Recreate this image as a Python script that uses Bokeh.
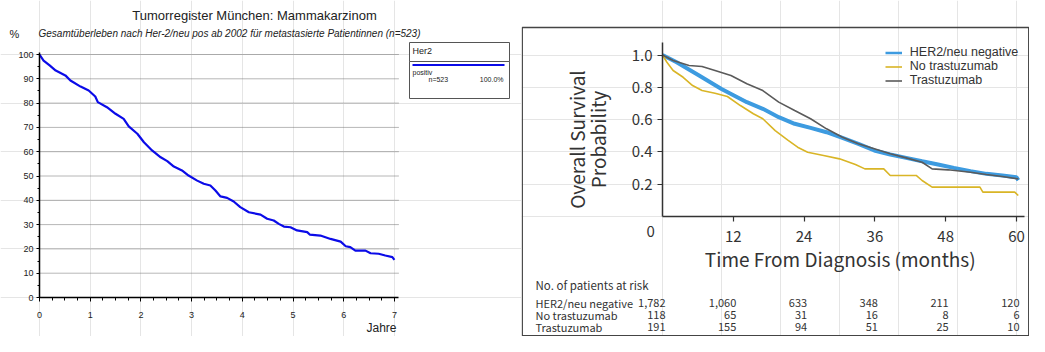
from math import pi
from bokeh.plotting import figure
from bokeh.models import (Range1d, LinearAxis, FixedTicker, Label, Legend,
                          LegendItem, PrintfTickFormatter)
from bokeh.layouts import row
from bokeh.embed import file_html
from bokeh.resources import INLINE
from bokeh.core.properties import value

# ---------------- data: left panel (Tumorregister München) ----------------
km_years = [0.00, 0.08, 0.20, 0.32, 0.51, 0.61, 0.81, 0.97, 1.10, 1.15, 1.33, 1.50,
            1.66, 1.76, 1.93, 2.06, 2.22, 2.39, 2.52, 2.65, 2.81, 2.94, 3.11, 3.24,
            3.37, 3.47, 3.57, 3.70, 3.83, 3.96, 4.13, 4.36, 4.49, 4.62, 4.72, 4.82,
            4.95, 5.08, 5.28, 5.33, 5.54, 5.74, 5.94, 6.04, 6.13, 6.23, 6.43, 6.53,
            6.69, 6.82, 6.96, 7.00]
km_pct = [100.0, 97.5, 95.5, 93.4, 91.4, 89.3, 86.8, 85.2, 82.7, 80.4, 78.3, 75.6,
          73.5, 70.4, 67.4, 63.9, 60.5, 57.7, 56.1, 53.9, 52.3, 50.2, 48.1, 46.8,
          46.1, 44.0, 41.6, 41.0, 39.5, 37.2, 35.1, 34.1, 32.4, 31.7, 30.3, 29.2,
          28.9, 27.6, 26.9, 25.9, 25.5, 24.1, 23.0, 21.1, 20.7, 19.3, 19.3, 18.2,
          18.0, 17.3, 16.6, 15.5]
left_xticks = [0, 1, 2, 3, 4, 5, 6, 7]
left_xminor = [i * 0.25 for i in range(29)]
left_yticks = [0, 10, 20, 30, 40, 50, 60, 70, 80, 90, 100]
left_yminor = list(range(0, 101, 5))
grid_levels = [10, 20, 30, 40, 50, 60, 70, 80, 90, 100]
left_title = "Tumorregister München: Mammakarzinom"
left_subtitle = "Gesamtüberleben nach Her-2/neu pos ab 2002 für metastasierte Patientinnen (n=523)"
left_legend_title = "Her2"
left_legend_group = "positiv"
left_legend_n = "n=523"
left_legend_share = "100.0%"

# ---------------- data: right panel ----------------
m_her2neg = [0, 2.4, 6.2, 10.0, 14.3, 17.0, 19.7, 22.4, 25.1, 27.8, 30.5, 33.2, 35.9,
             38.6, 41.3, 44.0, 46.7, 49.4, 52.2, 54.9, 57.6, 60.0, 60.3]
s_her2neg = [1.0, 0.955, 0.873, 0.79, 0.708, 0.667, 0.615, 0.574, 0.549, 0.522, 0.487,
             0.450, 0.409, 0.384, 0.363, 0.342, 0.322, 0.301, 0.281, 0.264, 0.254, 0.243, 0.225]
m_notras = [0, 0.75, 1.8, 3.5, 5.1, 6.7, 8.9, 11.0, 13.2, 15.4, 17.0, 19.1, 21.3, 22.9,
            24.6, 27.3, 30.0, 32.7, 34.3, 37.5, 38.6, 43.0, 44.0, 45.7, 53.8, 54.3, 59.7, 60.3]
s_notras = [1.0, 0.955, 0.904, 0.862, 0.811, 0.780, 0.763, 0.743, 0.687, 0.636, 0.605,
            0.532, 0.471, 0.429, 0.398, 0.378, 0.357, 0.322, 0.295, 0.295, 0.254, 0.254,
            0.223, 0.182, 0.182, 0.151, 0.151, 0.130]
m_tras = [0, 1.8, 4.5, 6.7, 8.9, 11.6, 14.3, 17.0, 19.7, 22.4, 25.1, 27.8, 30.5, 33.2,
          35.9, 38.6, 41.3, 44.0, 45.7, 48.4, 52.2, 54.9, 57.6, 60.3]
s_tras = [1.0, 0.966, 0.935, 0.929, 0.904, 0.873, 0.822, 0.780, 0.708, 0.656, 0.605,
          0.543, 0.491, 0.450, 0.419, 0.388, 0.363, 0.336, 0.295, 0.289, 0.274, 0.260,
          0.248, 0.233]
right_xticks = [12, 24, 36, 48, 60]
right_yticks = [0.2, 0.4, 0.6, 0.8, 1.0]
series_names = ["HER2/neu negative", "No trastuzumab", "Trastuzumab"]
risk_months = [0, 12, 24, 36, 48, 60]
risk_her2neg = ["1,782", "1,060", "633", "348", "211", "120"]
risk_notras = ["118", "65", "31", "16", "8", "6"]
risk_tras = ["191", "155", "94", "51", "25", "10"]
risk_header = "No. of patients at risk"

# ---------------- styles ----------------
SANS = "'Liberation Sans', Arial, sans-serif"
NARROW = "'Noto Sans CJK JP', 'Liberation Sans', sans-serif"
KM_BLUE = "#0b0be8"
C_BLUE = "#3d9be0"
C_YELLOW = "#d9b526"
C_GRAY = "#5a5a5a"
TXT = "#333333"
DARK = "#222222"

# ================= left figure =================
LW, LH = 521, 336
L_X0, L_PPY = 39.0, 50.7      # px of year 0, px per year
L_Y0, L_PPP = 297.0, 2.43     # px of 0 %, px per %


def lx(px):
    return (px - L_X0) / L_PPY


def ly(py):
    return (L_Y0 - py) / L_PPP


left = figure(width=LW, height=LH, x_range=Range1d(lx(0), lx(LW)),
              y_range=Range1d(ly(LH), ly(0)), output_backend="svg",
              toolbar_location=None, x_axis_location=None, y_axis_location=None,
              min_border=0, outline_line_color=None)
left.background_fill_color = "white"
left.border_fill_color = "white"

x_end = 7.08
left.segment(x0=[0] * len(grid_levels), x1=[x_end] * len(grid_levels),
             y0=grid_levels, y1=grid_levels, line_color="#6e6e6e",
             line_width=1, line_dash="1 1")
left.line(km_years, km_pct, line_color=KM_BLUE, line_width=2.2)

lxa = LinearAxis(fixed_location=0, bounds=(0, x_end),
                 ticker=FixedTicker(ticks=left_xticks, minor_ticks=left_xminor))
lya = LinearAxis(fixed_location=0, bounds=(0, 101),
                 ticker=FixedTicker(ticks=left_yticks, minor_ticks=left_yminor))
for ax in (lxa, lya):
    ax.axis_line_color = "black"
    ax.axis_line_width = 1.5
    ax.major_tick_line_color = "black"
    ax.minor_tick_line_color = "black"
    ax.major_tick_in = 0
    ax.minor_tick_in = 0
    ax.major_label_text_font = SANS
    ax.major_label_text_font_size = "9px"
    ax.major_label_text_color = DARK
lxa.major_tick_out = 4
lxa.minor_tick_out = 3
lxa.major_label_standoff = 10
lya.major_tick_out = 3
lya.minor_tick_out = 2
lya.major_label_standoff = 3
left.add_layout(lxa, "below")
left.add_layout(lya, "left")

left.add_layout(Label(x=lx(254), y=ly(15), text=left_title, text_align="center",
                      text_baseline="middle", text_font=SANS, text_font_size="13px",
                      text_color=DARK))
left.add_layout(Label(x=lx(38), y=ly(32.5), text=left_subtitle, text_align="left",
                      text_baseline="middle", text_font=SANS, text_font_size="10px",
                      text_font_style="italic", text_color=DARK))
left.add_layout(Label(x=lx(9), y=ly(33.5), text="%", text_align="left",
                      text_baseline="middle", text_font=SANS, text_font_size="11px",
                      text_color=DARK))
left.add_layout(Label(x=lx(396), y=ly(327), text="Jahre", text_align="right",
                      text_baseline="middle", text_font=SANS, text_font_size="12px",
                      text_color=DARK))

# legend box
left.quad(left=[lx(409)], right=[lx(509)], top=[ly(42)], bottom=[ly(61)],
          fill_color="white", line_color="#555555", line_width=1)
left.quad(left=[lx(409)], right=[lx(509)], top=[ly(61)], bottom=[ly(98)],
          fill_color="white", line_color="#555555", line_width=1)
left.segment(x0=[lx(412)], x1=[lx(504)], y0=[ly(64.5)], y1=[ly(64.5)],
             line_color=KM_BLUE, line_width=2.2)
left.add_layout(Label(x=lx(412), y=ly(50), text=left_legend_title, text_align="left",
                      text_baseline="middle", text_font=SANS, text_font_size="9px",
                      text_color=DARK))
left.add_layout(Label(x=lx(412), y=ly(72), text=left_legend_group, text_align="left",
                      text_baseline="middle", text_font=SANS, text_font_size="7px",
                      text_color=DARK))
left.add_layout(Label(x=lx(428), y=ly(78.5), text=left_legend_n, text_align="left",
                      text_baseline="middle", text_font=SANS, text_font_size="7px",
                      text_color=DARK))
left.add_layout(Label(x=lx(503), y=ly(78.5), text=left_legend_share, text_align="right",
                      text_baseline="middle", text_font=SANS, text_font_size="7px",
                      text_color=DARK))

# ================= right figure =================
RW, RH = 508, 336
R_LEFT = 521                       # px of the panel's left edge
R_X0, R_PPM = 662.0, 5.9           # px of month 0, px per month
R_Y0, R_PPU = 216.0, 161.5         # px of probability 0, px per unit


def rx(px):
    return (px - R_X0) / R_PPM


def ry(py):
    return (R_Y0 - py) / R_PPU


def rref(px_ref):
    return R_X0 + (px_ref - 665.4) * R_PPM / 6.16


right = figure(width=RW, height=RH, x_range=Range1d(rx(R_LEFT), rx(R_LEFT + RW)),
               y_range=Range1d(ry(RH), ry(0)), output_backend="svg",
               toolbar_location=None, x_axis_location=None, y_axis_location=None,
               min_border=0, outline_line_color=None)
right.background_fill_color = "white"
right.border_fill_color = "white"

# panel frame box
right.quad(left=[rx(R_LEFT + 0.8)], right=[rx(R_LEFT + RW - 0.8)], top=[ry(27)],
           bottom=[ry(RH - 0.8)], fill_color=None, line_color="#444444", line_width=1.3)

rb_key = right.line(m_her2neg, s_her2neg, line_color=C_BLUE, line_width=2.5)
rb = right.line(m_her2neg, s_her2neg, line_color=C_BLUE, line_width=4)
ryl = right.line(m_notras, s_notras, line_color=C_YELLOW, line_width=1.6)
rg = right.line(m_tras, s_tras, line_color=C_GRAY, line_width=1.6)

rxa = LinearAxis(fixed_location=0, bounds=(0, 61.3),
                 ticker=FixedTicker(ticks=right_xticks, minor_ticks=[]))
rya = LinearAxis(fixed_location=0, bounds=(0, 1.075),
                 ticker=FixedTicker(ticks=right_yticks, minor_ticks=[]),
                 formatter=PrintfTickFormatter(format="%.1f"))
for ax in (rxa, rya):
    ax.axis_line_color = "#333333"
    ax.axis_line_width = 1.5
    ax.major_tick_line_color = "#333333"
    ax.major_tick_line_width = 1.2
    ax.major_tick_in = 0
    ax.major_tick_out = 5
    ax.minor_tick_out = 0
    ax.major_label_text_font = NARROW
    ax.major_label_text_font_size = "15px"
    ax.major_label_text_color = TXT
rxa.major_label_standoff = 9
rya.major_label_standoff = 5
right.add_layout(rxa, "below")
right.add_layout(rya, "left")

right.add_layout(Label(x=rx(rref(653)), y=ry(231), text="0", text_align="center",
                       text_baseline="middle", text_font=NARROW, text_font_size="15px",
                       text_color=TXT))
right.add_layout(Label(x=rx(576), y=ry(139), text="Overall Survival", angle=pi / 2,
                       text_align="center", text_baseline="middle", text_font=NARROW,
                       text_font_size="19px", text_color=TXT))
right.add_layout(Label(x=rx(597), y=ry(139), text="Probability", angle=pi / 2,
                       text_align="center", text_baseline="middle", text_font=NARROW,
                       text_font_size="19px", text_color=TXT))
right.add_layout(Label(x=rx(rref(851)), y=ry(258), text="Time From Diagnosis (months)",
                       text_align="center", text_baseline="middle", text_font=NARROW,
                       text_font_size="19px", text_color=TXT))

legend = Legend(items=[LegendItem(label=series_names[0], renderers=[rb_key]),
                       LegendItem(label=series_names[1], renderers=[ryl]),
                       LegendItem(label=series_names[2], renderers=[rg])],
                location=(rref(898) - R_LEFT, RH - 48 - 39))
legend.border_line_color = None
legend.background_fill_alpha = 0
legend.padding = 0
legend.margin = 0
legend.spacing = 0
legend.label_height = 13
legend.glyph_height = 13
legend.glyph_width = 17
legend.label_standoff = 8
legend.label_text_font = SANS
legend.label_text_font_size = "12.5px"
legend.label_text_color = TXT
legend.label_text_baseline = "middle"
right.add_layout(legend)

# at-risk table
TABLE_FS = "11px"
right.add_layout(Label(x=rx(535), y=ry(284.5), text=risk_header, text_align="left",
                       text_baseline="middle", text_font=NARROW, text_font_size="11.5px",
                       text_color=TXT))
row_y = [ry(302.7), ry(314.5), ry(326.3)]
for name, yy in zip(series_names, row_y):
    right.add_layout(Label(x=rx(535), y=yy, text=name, text_align="left",
                           text_baseline="middle", text_font=NARROW,
                           text_font_size=TABLE_FS, text_color=TXT))
for counts, yy in zip([risk_her2neg, risk_notras, risk_tras], row_y):
    right.text(x=risk_months, y=[yy] * len(risk_months), text=counts,
               text_align="right", text_baseline="middle", x_offset=3,
               text_font=value(NARROW), text_font_size=TABLE_FS, text_color=TXT)

layout = row(left, right, spacing=0)
open("out.html", "w").write(file_html(layout, INLINE))
